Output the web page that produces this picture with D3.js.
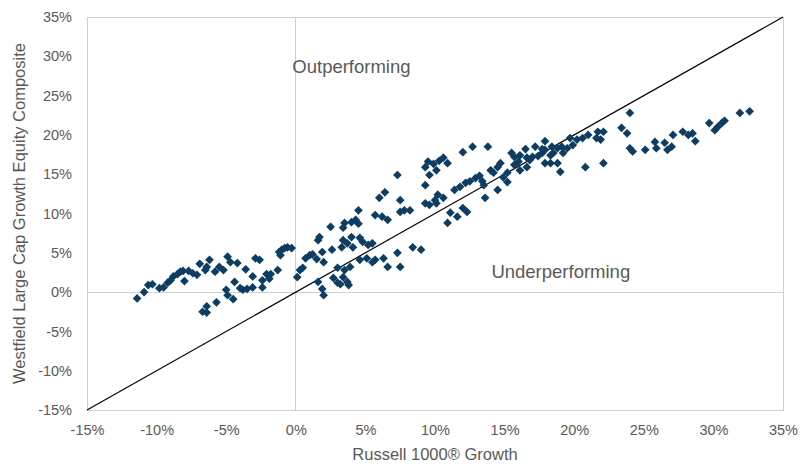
<!DOCTYPE html>
<html>
<head>
<meta charset="utf-8">
<script src="https://cdn.jsdelivr.net/npm/d3@7/dist/d3.min.js"></script>
<style>
  html, body { margin: 0; padding: 0; background: #fff; }
  svg { display: block; font-family: "Liberation Sans", Arial, sans-serif; }
</style>
</head>
<body>
<svg id="chart" width="802" height="464"></svg>
<script>
// Russell 1000 Growth returns (%)
const benchmark = [
  -11.4,-10.9,-10.6,-10.3,-9.8,-9.5,-9.2,-9.0,-8.8,-8.5,-8.3,-8.1,-8.0,-7.7,-7.4,-7.1,-6.9,-6.5,-6.4,-6.2,
  -5.8,-5.5,-5.2,-4.9,-4.7,-4.2,-4.4,-5.0,-4.9,-4.5,-5.7,-6.4,-6.7,-6.4,-3.6,-3.8,-3.5,-3.1,-3.1,-2.9,
  -2.6,-2.4,-2.4,-2.1,-1.8,-1.9,-1.3,-1.2,-1.0,-0.8,-0.6,-0.3,-1.1,-4.0,
  0.1,0.3,0.5,0.7,1.0,1.2,1.5,1.6,1.7,1.9,2.0,1.6,1.9,2.0,2.5,2.6,2.7,3.0,3.0,3.3,
  3.4,3.4,3.5,3.7,3.8,3.5,3.9,4.0,4.0,4.1,4.3,4.5,4.5,4.6,4.6,4.8,5.1,5.2,5.5,5.7,
  5.7,6.0,6.2,6.4,6.3,6.6,6.6,7.3,7.5,7.5,7.5,7.8,8.2,8.4,9.0,9.3,9.3,9.6,10.1,10.2,
  3.2,3.4,3.7,5.5,7.3,10.9,
  9.3,9.5,9.9,10.1,10.3,10.6,10.9,9.6,10.0,10.6,11.1,11.6,12.0,12.3,11.4,11.8,12.0,12.7,12.2,12.5,
  12.9,13.2,13.4,13.5,13.6,13.8,14.0,14.2,14.5,14.7,14.9,14.5,15.2,15.2,15.5,15.7,15.7,16.0,16.1,16.1,
  16.5,16.6,16.6,16.8,17.0,17.2,17.4,17.7,17.7,17.9,17.9,17.9,18.3,18.4,18.5,18.3,18.8,19.0,19.1,19.5,
  19.7,19.9,20.2,20.6,20.8,18.8,19.2,
  21.0,21.6,21.7,22.1,21.9,24.0,23.4,23.8,24.0,25.1,25.8,25.9,26.5,26.7,27.0,27.1,27.8,28.2,28.5,28.7,
  29.7,30.1,30.3,30.6,30.8,31.9,32.6,22.1,24.2
];
// Westfield Large Cap Growth Equity Composite returns (%)
const composite = [
  -0.8,0.0,0.9,1.0,0.5,0.6,1.2,1.5,2.0,2.3,2.6,2.7,1.4,2.7,2.4,2.2,3.6,2.8,3.2,4.1,
  2.6,3.2,2.8,4.5,3.8,3.7,1.3,0.3,-0.4,-0.9,-1.3,-1.8,-2.5,-2.6,2.9,0.3,0.4,0.6,2.0,4.3,
  4.1,1.5,0.6,2.3,2.3,1.7,2.8,5.1,5.4,5.6,5.7,5.6,4.7,0.5,
  1.9,2.8,3.1,4.3,4.7,4.8,4.2,6.6,7.0,5.1,3.8,1.3,0.4,-0.4,8.3,5.4,1.8,1.2,3.1,5.7,
  6.6,8.2,8.8,6.2,0.9,2.8,3.2,7.0,8.9,5.7,9.2,10.4,8.7,6.9,4.1,6.4,4.3,6.0,6.2,4.1,
  9.8,12.0,9.6,12.7,4.3,3.2,9.2,5.0,3.2,11.7,10.2,10.4,10.4,5.7,5.4,13.6,11.3,14.9,11.3,12.4,
  1.0,1.9,1.3,3.8,14.9,8.8,
  15.9,16.6,16.3,15.5,16.7,17.1,16.4,11.1,11.7,12.0,10.1,9.6,10.7,10.2,13.0,13.4,17.8,18.5,13.9,14.1,
  14.5,14.8,14.1,13.6,12.0,18.5,15.5,15.2,15.9,16.4,14.6,13.0,15.2,14.0,17.7,16.2,17.2,16.6,15.5,17.4,
  18.2,17.1,15.9,16.8,17.2,18.5,17.3,18.2,17.7,19.2,18.1,16.4,17.4,18.5,17.7,16.4,16.4,15.3,18.5,18.3,
  19.6,18.7,19.4,19.6,15.9,18.3,17.7,
  20.0,19.6,20.4,20.4,19.4,22.8,20.9,20.2,18.3,18.1,19.1,18.3,19.0,18.1,18.5,20.0,20.4,20.0,20.2,19.2,
  21.5,20.6,21.0,21.5,21.8,22.8,23.0,16.4,17.9
];
const ticks = [-15,-10,-5,0,5,10,15,20,25,30,35];
const domainMin = -15, domainMax = 35;

const svg = d3.select("#chart");
const L = 87, R = 783, T = 17, B = 410;
const x = d3.scaleLinear().domain([domainMin, domainMax]).range([L, R]);
const y = d3.scaleLinear().domain([domainMin, domainMax]).range([B, T]);
const textColor = "#595959";
const gridColor = "#d0d0d0";

// plot border
svg.append("rect").attr("x", L).attr("y", T).attr("width", R - L).attr("height", B - T)
  .attr("fill", "none").attr("stroke", gridColor).attr("stroke-width", 1)
  .attr("shape-rendering", "crispEdges");

// zero lines
svg.append("line").attr("x1", x(0)).attr("x2", x(0)).attr("y1", T).attr("y2", B)
  .attr("stroke", gridColor).attr("shape-rendering", "crispEdges");
svg.append("line").attr("x1", L).attr("x2", R).attr("y1", y(0)).attr("y2", y(0))
  .attr("stroke", gridColor).attr("shape-rendering", "crispEdges");

// axes (labels only)
const xAxis = d3.axisBottom(x).tickValues(ticks).tickFormat(d => d + "%").tickSize(0).tickPadding(0);
const gx = svg.append("g").attr("transform", `translate(0,${B + 15})`).call(xAxis);
gx.select(".domain").remove();
gx.selectAll("text").attr("fill", textColor).style("font-size", "14.5px").attr("dy", "0.71em");

const yAxis = d3.axisLeft(y).tickValues(ticks).tickFormat(d => d + "%").tickSize(0).tickPadding(0);
const gy = svg.append("g").attr("transform", `translate(${L - 15},0)`).call(yAxis);
gy.select(".domain").remove();
gy.selectAll("text").attr("fill", textColor).style("font-size", "14.5px");

// diagonal
svg.append("line")
  .attr("x1", x(domainMin)).attr("y1", y(domainMin))
  .attr("x2", x(domainMax)).attr("y2", y(domainMax))
  .attr("stroke", "#000").attr("stroke-width", 1.2);

// points
const sym = d3.symbol().type(d3.symbolSquare).size(38);
svg.append("g").selectAll("path").data(benchmark.map((b, i) => [b, composite[i]]))
  .join("path")
  .attr("d", sym)
  .attr("transform", d => `translate(${x(d[0])},${y(d[1])}) rotate(45)`)
  .attr("fill", "#0d3d63");

// annotations
svg.append("text").attr("x", x(-0.25)).attr("y", y(27.9)).text("Outperforming")
  .attr("fill", textColor).style("font-size", "18.5px");
svg.append("text").attr("x", x(14.05)).attr("y", y(1.8)).text("Underperforming")
  .attr("fill", textColor).style("font-size", "18.5px");

// axis titles
svg.append("text").attr("x", (L + R) / 2).attr("y", 460).attr("text-anchor", "middle")
  .text("Russell 1000® Growth").attr("fill", textColor).style("font-size", "16.5px");
svg.append("text").attr("transform", `translate(25,${(T + B) / 2}) rotate(-90)`)
  .attr("text-anchor", "middle")
  .text("Westfield Large Cap Growth Equity Composite").attr("fill", textColor).style("font-size", "16.5px");
</script>
</body>
</html>
